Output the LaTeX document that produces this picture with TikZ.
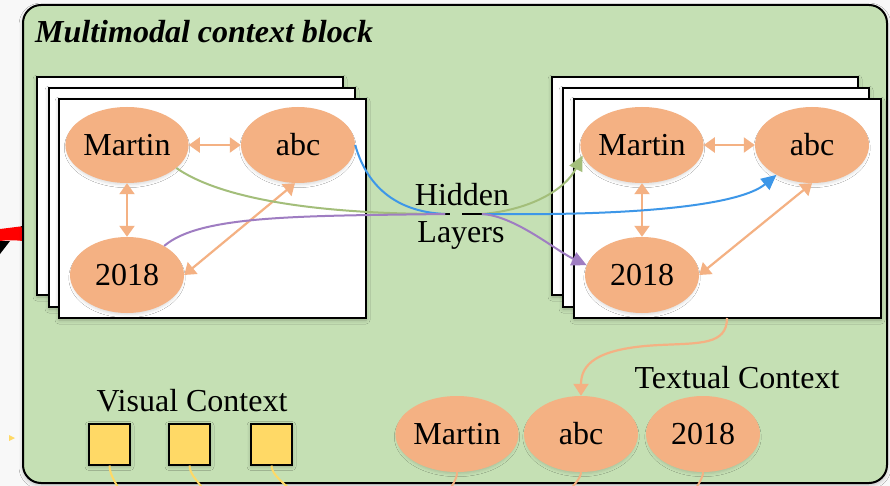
\documentclass[tikz,border=0pt]{standalone}
\usepackage{fontspec}
\setmainfont{Liberation Serif}
\usetikzlibrary{shapes.geometric,arrows.meta,shadows.blur}

\definecolor{blockgreen}{HTML}{C5E0B4}
\definecolor{wordfill}{HTML}{F4B183}
\definecolor{imgfill}{HTML}{FFD966}
\definecolor{linkgreen}{HTML}{A3BE7A}
\definecolor{linkblue}{HTML}{3D97E8}
\definecolor{linkpurple}{HTML}{9F7DC2}
\definecolor{pagebg}{HTML}{F8F8F8}
\definecolor{signalred}{HTML}{FF0000}

\begin{document}
\begin{tikzpicture}[x=1pt,y=-1pt,
  soft/.style={blur shadow={shadow xshift=0pt,shadow yshift=-2pt,shadow blur radius=4pt,shadow opacity=25}},
  glow/.style={blur shadow={shadow xshift=0pt,shadow yshift=-3pt,shadow scale=0.97,shadow blur radius=3pt,shadow opacity=14}},
  word/.style={ellipse,fill=wordfill,minimum width=114pt,minimum height=76pt,inner sep=0pt,
    font=\fontsize{32}{38}\selectfont,glow},
  page/.style={draw=black,line width=2pt,fill=white,soft},
  imgbox/.style={draw=black,line width=2pt,fill=imgfill,minimum size=41pt,inner sep=0pt,soft},
  txt/.style={font=\fontsize{32}{38}\selectfont,inner sep=0pt},
  rel/.style={draw=wordfill,line width=2.2pt,
    {Triangle[length=11pt,width=15pt]}-{Triangle[length=11pt,width=15pt]}},
  flow/.style={line width=2pt,-{Triangle[length=15pt,width=14pt]}},
  feed/.style={line width=2pt},
]
\useasboundingbox (0,0) rectangle (890,486);
\clip (0,0) rectangle (890,486);
\fill[pagebg] (0,0) rectangle (890,486);

% incoming arrow from the left
\fill[black] (0,241) -- (10,241) -- (0,254) -- cycle;
\fill[signalred] (0,229) .. controls (8,228) and (16,227) .. (24,226) -- (23,241)
  .. controls (14,240) and (7,240) .. (0,241) -- cycle;
\fill[black] (21,226) -- (26,226) -- (23,230) -- cycle;
\fill[imgfill] (9,435) -- (15,438) -- (9,441) -- cycle;

% context block
\draw[line width=2pt,fill=blockgreen,rounded corners=18pt,soft] (23,5) rectangle (887,483);
\node[anchor=base west,inner sep=0pt,font=\bfseries\itshape\fontsize{32}{38}\selectfont]
  (title) at (35,43) {Multimodal context block};

% stacked frames
\draw[page] (37,77) rectangle (343,295);
\draw[page] (49,88) rectangle (355,307);
\draw[page] (59,99) rectangle (366,318);
\draw[page] (552,77) rectangle (858,295);
\draw[page] (563,88) rectangle (869,307);
\draw[page] (574,99) rectangle (881,318);
\coordinate (tsrc) at (727,318);

% words in the frames
\node[word] (lm) at (127,145) {Martin};
\node[word] (la) at (298,145) {abc};
\node[word] (ly) at (127,275) {2018};
\node[word] (rm) at (642,145) {Martin};
\node[word] (ra) at (812,145) {abc};
\node[word] (ry) at (642,275) {2018};

\draw[rel] (lm) -- (la);
\draw[rel] (lm) -- (ly);
\draw[rel] ([xshift=-3pt]la.south) -- (ly.east);
\draw[rel] (rm) -- (ra);
\draw[rel] (rm) -- (ry);
\draw[rel] (ra.south) -- (ry.east);

% hidden layers
\coordinate (hl) at (445,214);
\coordinate (hr) at (482,214);
\node[txt,anchor=base] (hid) at (462,205) {Hidden};
\node[txt,anchor=base] (lay) at (461,242) {Layers};
\draw[line width=2pt] (442,214) -- (450,214);
\draw[line width=2pt] (462,214) -- (hr);

\draw[feed,linkgreen] (lm.-25) .. controls (215,195) and (300,214) .. (hl);
\draw[feed,linkblue] (la.east) .. controls (368,190) and (400,212) .. (hl);
\draw[feed,linkpurple] (ly.38) .. controls (200,215) and (300,216) .. (hl);

\draw[flow,linkgreen] (hr) .. controls (530,210) and (565,190) .. (rm.190);
\draw[flow,linkblue] (hr) .. controls (640,216) and (740,205) .. (ra.220);
\draw[flow,linkpurple] (hr) .. controls (515,216) and (555,250) .. (ry.170);

% textual context
\node[txt,anchor=base] (tctx) at (737,388) {Textual Context};
\node[word] (bm) at (457,434) {Martin};
\node[word] (ba) at (581,434) {abc};
\node[word] (by) at (703,434) {2018};
\draw[line width=2.2pt,wordfill,-{Triangle[length=12pt,width=15pt]}]
  (tsrc) .. controls (727,345) and (700,343) .. (660,345)
  .. controls (595,348) and (581,365) .. (ba.north);

% visual context
\node[txt,anchor=base] (vctx) at (192,411) {Visual Context};
\node[imgbox] (v1) at (109.5,444) {};
\node[imgbox] (v2) at (189.5,444) {};
\node[imgbox] (v3) at (271.5,444) {};

% connectors leaving downwards
\coordinate (bmo) at (449,492);
\coordinate (bao) at (568,492);
\coordinate (byo) at (694,492);
\coordinate (v1o) at (120,492);
\coordinate (v2o) at (205,492);
\coordinate (v3o) at (292,492);
\draw[line width=2pt,wordfill] (bm.south) .. controls +(0,8) and +(2,-6) .. (bmo);
\draw[line width=2pt,wordfill] (ba.south) .. controls +(0,6) and +(5,-6) .. (bao);
\draw[line width=2pt,wordfill] (by.south) .. controls +(0,6) and +(3,-6) .. (byo);
\draw[line width=2pt,imgfill] (v1.south) .. controls +(0,10) and +(-3,-8) .. (v1o);
\draw[line width=2pt,imgfill] (v2.south) .. controls +(0,10) and +(-4,-8) .. (v2o);
\draw[line width=2pt,imgfill] (v3.south) .. controls +(0,10) and +(-6,-8) .. (v3o);
\end{tikzpicture}
\end{document}
